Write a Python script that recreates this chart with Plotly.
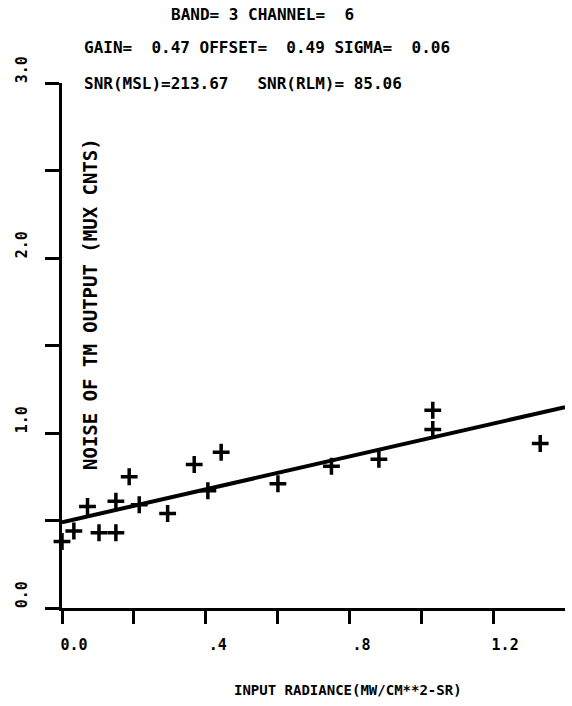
import plotly.graph_objects as go

# Data
radiance = [0.0, 0.033, 0.071, 0.103, 0.150, 0.150, 0.187, 0.215, 0.294, 0.368,
            0.406, 0.443, 0.601, 0.750, 0.882, 1.032, 1.032, 1.331]
noise = [0.38, 0.44, 0.58, 0.43, 0.43, 0.61, 0.75, 0.59, 0.54, 0.82,
         0.67, 0.89, 0.71, 0.81, 0.85, 1.13, 1.02, 0.94]

gain = 0.47
offset = 0.49
fit_x = [0.0, 1.4]
fit_y = [offset + gain * v for v in fit_x]

x_tickvals = [0.0, 0.2, 0.4, 0.6, 0.8, 1.0, 1.2]
x_ticktext = ["0.0", "", ".4", "", ".8", "", "1.2"]
y_tickvals = [0.0, 0.5, 1.0, 1.5, 2.0, 2.5, 3.0]
y_ticktext = ["0.0", "", "1.0", "", "2.0", "", "3.0"]

FONT = "DejaVu Sans Mono"
W, H = 572, 706
ML, MR, MT, MB = 62, 7, 83, 98
PW, PH = W - ML - MR, H - MT - MB


def px(x):
    return (x - ML) / PW


def py(y):
    return (H - y - MB) / PH


fig = go.Figure()
fig.add_trace(go.Scatter(x=fit_x, y=fit_y, mode="lines",
                         line=dict(color="black", width=4), showlegend=False,
                         cliponaxis=False))
fig.add_trace(go.Scatter(x=radiance, y=noise, mode="markers",
                         marker=dict(symbol="cross-thin-open", size=12, color="black",
                                     line=dict(color="black", width=3.5)),
                         showlegend=False, cliponaxis=False))

title_font = dict(family=FONT, size=16, weight="bold", color="black")
fig.update_layout(
    template="none",
    width=W, height=H,
    margin=dict(l=ML, r=MR, t=MT, b=MB, autoexpand=False),
    paper_bgcolor="white", plot_bgcolor="white",
    font=dict(family=FONT, color="black", size=15, weight="bold"),
    xaxis=dict(range=[0, 1.4], showgrid=False, zeroline=False, automargin=False,
               showline=True, linecolor="black", linewidth=3,
               ticks="outside", ticklen=13, tickwidth=2.5, tickcolor="black",
               tickvals=x_tickvals, ticktext=x_ticktext,
               tickfont=dict(family=FONT, size=15, weight="bold"),
               ticklabelshift=12, ticklabelstandoff=8),
    yaxis=dict(range=[0, 3.0], showgrid=False, zeroline=False, automargin=False,
               showline=True, linecolor="black", linewidth=3,
               ticks="outside", ticklen=14, tickwidth=2.5, tickcolor="black",
               tickvals=y_tickvals, ticktext=y_ticktext, tickangle=-90,
               tickfont=dict(family=FONT, size=15, weight="bold"),
               ticklabelshift=-11, ticklabelstandoff=12),
    annotations=[
        dict(text="BAND= 3 CHANNEL=  6", x=px(262), y=py(15),
             xanchor="center", yanchor="middle", font=title_font),
        dict(text="GAIN=  0.47 OFFSET=  0.49 SIGMA=  0.06", x=px(82), y=py(47),
             xanchor="left", yanchor="middle", font=title_font),
        dict(text="SNR(MSL)=213.67   SNR(RLM)= 85.06", x=px(82), y=py(83),
             xanchor="left", yanchor="middle", font=title_font),
        dict(text="INPUT RADIANCE(MW/CM**2-SR)", x=px(348), y=py(690),
             xanchor="center", yanchor="middle",
             font=dict(family=FONT, size=14, weight="bold", color="black")),
        dict(text="NOISE OF TM OUTPUT (MUX CNTS)", x=px(90), y=py(304),
             xanchor="center", yanchor="middle", textangle=-90,
             font=dict(family=FONT, size=19, weight="bold", color="black")),
    ],
)
for a in fig.layout.annotations:
    a.xref = "paper"
    a.yref = "paper"
    a.showarrow = False

fig.write_html("out.html", config={"displayModeBar": False},
               post_script="document.body.style.margin='0px';")
